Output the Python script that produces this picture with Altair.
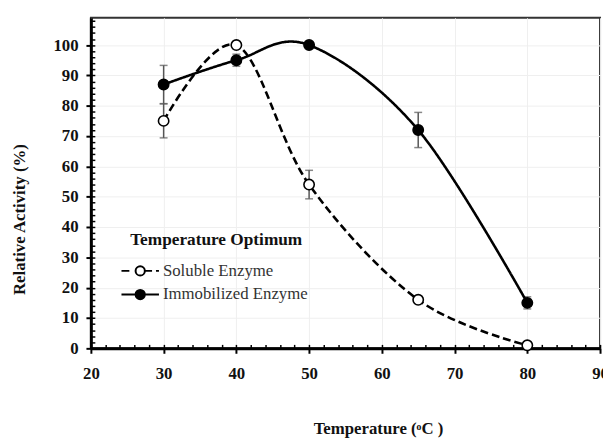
import altair as alt
import pandas as pd

# ---- data ----
temperature = [30, 40, 50, 65, 80]
soluble_activity = [75, 100, 54, 16, 1]
soluble_error = [5.6, 0.0, 4.7, 1.0, 0.6]
immobilized_activity = [87, 95, 100, 72, 15]
immobilized_error = [6.3, 2.0, 0.0, 5.8, 2.0]
series_names = ["Soluble Enzyme", "Immobilized Enzyme"]

x_major = [20, 30, 40, 50, 60, 70, 80, 90]
y_major = [0, 10, 20, 30, 40, 50, 60, 70, 80, 90, 100]
x_minor = list(range(20, 91, 2))
y_minor = list(range(0, 109, 2))

rows = []
for name, vals, errs in [(series_names[0], soluble_activity, soluble_error),
                         (series_names[1], immobilized_activity, immobilized_error)]:
    for t, v, e in zip(temperature, vals, errs):
        rows.append({"temp": t, "activity": v, "err": e,
                     "lo": v - e, "hi": v + e, "series": name})
df = pd.DataFrame(rows)
err_df = df[df["err"] > 0]

W, H = 516, 335
FONT = "Liberation Serif"

xs = alt.Scale(domain=[20, 90], nice=False, zero=False)
ys = alt.Scale(domain=[0, 109], nice=False, zero=False)

main_x_axis = alt.Axis(
    orient="bottom", values=x_major, title="Temperature (ᵒC )",
    grid=True, gridColor="#efefef", gridWidth=1,
    domainColor="black", domainWidth=3,
    tickColor="black", tickSize=5, tickWidth=2,
    labelFont=FONT, labelFontSize=17, labelFontWeight="bold", labelColor="#111",
    labelPadding=13, labelFlush=False,
    titleFont=FONT, titleFontSize=17, titleFontWeight="bold", titleColor="#111",
    titleX=291, titleY=81, titleAlign="center", titleBaseline="middle",
)
main_y_axis = alt.Axis(
    orient="left", values=y_major, title="Relative Activity (%)",
    grid=True, gridColor="#efefef", gridWidth=1,
    domainColor="black", domainWidth=3,
    tickColor="black", tickSize=5, tickWidth=2,
    labelFont=FONT, labelFontSize=17, labelFontWeight="bold", labelColor="#111",
    labelPadding=8,
    titleFont=FONT, titleFontSize=17, titleFontWeight="bold", titleColor="#111",
    titleX=-72, titleY=204, titleAngle=270, titleAlign="center", titleBaseline="middle",
)
inner_x_axis = alt.Axis(
    orient="top", offset=-H, values=x_minor, labels=False, domain=False,
    grid=False, tickColor="black", tickSize=4, tickWidth=1.5, title=None,
)
inner_y_axis = alt.Axis(
    orient="right", offset=-W, values=y_minor, labels=False, domain=False,
    grid=False, tickColor="black", tickSize=4, tickWidth=1.5, title=None,
)

ticks_layer = alt.Chart(df).mark_point(opacity=0).encode(
    x=alt.X("temp:Q", scale=xs, axis=inner_x_axis),
    y=alt.Y("activity:Q", scale=ys, axis=inner_y_axis),
)

errbars = alt.Chart(err_df).mark_errorbar(
    ticks=True, size=8, thickness=1.5, color="#555"
).encode(
    x=alt.X("temp:Q", scale=xs, axis=None),
    y=alt.Y("lo:Q", scale=ys, axis=None),
    y2="hi:Q",
)

lines = alt.Chart(df).mark_line(
    interpolate="cardinal", strokeWidth=2.6, color="black"
).encode(
    x=alt.X("temp:Q", scale=xs, axis=main_x_axis),
    y=alt.Y("activity:Q", scale=ys, axis=main_y_axis),
    strokeDash=alt.StrokeDash(
        "series:N",
        scale=alt.Scale(domain=series_names, range=[[8, 4], [1, 0]]),
        legend=None,
    ),
)

points = alt.Chart(df).mark_point(
    filled=True, shape="circle", size=110, opacity=1, stroke="black", strokeWidth=1.6
).encode(
    x=alt.X("temp:Q", scale=xs, axis=None),
    y=alt.Y("activity:Q", scale=ys, axis=None),
    fill=alt.Fill("series:N",
                  scale=alt.Scale(domain=series_names, range=["white", "black"]),
                  legend=None),
)

# legend symbols: a line with a circle marker (path coordinates; 1 unit = 14 px)
r = 0.335
circle = f"M{r},0A{r},{r} 0 1,1 {-r},0A{r},{r} 0 1,1 {r},0Z"
path_soluble = "M-1.357,0H-0.786M0.357,0H0.857M1.14,0H1.357" + circle
path_immob = "M-1.357,0H1.357" + circle

legend_def = alt.Legend(
    orient="none", legendX=35, legendY=216, padding=0,
    title="Temperature Optimum", titleFont=FONT, titleFontSize=17.5,
    titleFontWeight="bold", titleColor="#111", titleAnchor="middle", titlePadding=8,
    labelFont=FONT, labelFontSize=17, labelColor="#333", labelOffset=8, labelLimit=300,
    symbolSize=784, symbolOffset=0, symbolStrokeColor="black", symbolStrokeWidth=2,
    rowPadding=0,
)

legend_layer = alt.Chart(df).transform_filter("false").mark_point(
    filled=True, opacity=1, strokeWidth=2
).encode(
    fill=alt.Fill("series:N",
                  scale=alt.Scale(domain=series_names, range=["white", "black"]),
                  legend=legend_def),
    stroke=alt.Stroke("series:N",
                      scale=alt.Scale(domain=series_names, range=["black", "black"]),
                      legend=legend_def),
    shape=alt.Shape("series:N",
                    scale=alt.Scale(domain=series_names, range=[path_soluble, path_immob]),
                    legend=legend_def),
)

chart = alt.layer(ticks_layer, errbars, lines, points, legend_layer).resolve_axis(
    x="independent", y="independent"
).resolve_scale(
    fill="independent", shape="independent", stroke="independent"
).properties(
    width=W, height=H,
    autosize=alt.AutoSizeParams(type="none"),
    padding={"left": 84, "right": 3, "top": 7, "bottom": 92},
    background="white",
).configure_view(stroke="#333", strokeWidth=2)

chart.save("out.html", embed_options={"renderer": "svg", "actions": False})
